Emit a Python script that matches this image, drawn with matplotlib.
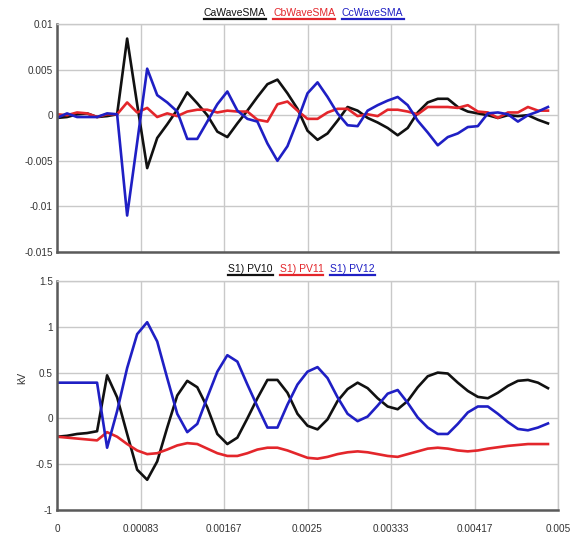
import matplotlib
matplotlib.use("Agg")
import matplotlib.pyplot as plt
from matplotlib.lines import Line2D
import numpy as np

plt.rcParams['font.family'] = ['Liberation Sans', 'DejaVu Sans']

# sample times (s), 0.1 ms step
t = np.round(np.arange(50) * 1e-4, 5)

ca_wave_sma = [-0.0003, -0.0002, 0.0001, 0.0002, -0.0002, -0.0001, 0.0001, 0.0084, 0.0012, -0.0058,
               -0.0025, -0.0010, 0.0006, 0.0025, 0.0013, 0.0000, -0.0018, -0.0024, -0.0009, 0.0005,
               0.0020, 0.0034, 0.0039, 0.0024, 0.0007, -0.0017, -0.0027, -0.0020, -0.0006, 0.0009,
               0.0005, -0.0003, -0.0008, -0.0014, -0.0022, -0.0014, 0.0003, 0.0014, 0.0018, 0.0018,
               0.0009, 0.0004, 0.0002, 0.0000, -0.0003, 0.0000, -0.0001, 0.0000, -0.0005, -0.0009]
cb_wave_sma = [0.0001, 0.0000, 0.0003, 0.0002, -0.0002, 0.0001, 0.0001, 0.0014, 0.0003, 0.0008,
               -0.0002, 0.0002, -0.0001, 0.0004, 0.0006, 0.0006, 0.0003, 0.0005, 0.0004, 0.0004,
               -0.0005, -0.0007, 0.0012, 0.0015, 0.0005, -0.0004, -0.0004, 0.0003, 0.0007, 0.0007,
               -0.0001, 0.0001, -0.0001, 0.0006, 0.0006, 0.0004, 0.0001, 0.0009, 0.0009, 0.0009,
               0.0008, 0.0011, 0.0004, 0.0003, -0.0003, 0.0003, 0.0003, 0.0009, 0.0005, 0.0005]
cc_wave_sma = [-0.0003, 0.0002, -0.0002, -0.0002, -0.0002, 0.0002, 0.0001, -0.0110, -0.0030, 0.0051,
               0.0022, 0.0014, 0.0004, -0.0026, -0.0026, -0.0007, 0.0012, 0.0026, 0.0005, -0.0004,
               -0.0007, -0.0031, -0.0050, -0.0034, -0.0006, 0.0024, 0.0036, 0.0020, 0.0002, -0.0011,
               -0.0012, 0.0005, 0.0011, 0.0016, 0.0020, 0.0011, -0.0006, -0.0019, -0.0033, -0.0024,
               -0.0020, -0.0013, -0.0012, 0.0002, 0.0003, 0.0001, -0.0007, 0.0000, 0.0004, 0.0009]

pv10 = [-0.20, -0.19, -0.17, -0.16, -0.14, 0.47, 0.23, -0.17, -0.56, -0.67,
        -0.47, -0.10, 0.25, 0.41, 0.34, 0.12, -0.17, -0.28, -0.21, 0.00,
        0.22, 0.42, 0.42, 0.28, 0.05, -0.08, -0.12, -0.01, 0.19, 0.32,
        0.39, 0.33, 0.22, 0.13, 0.10, 0.19, 0.34, 0.46, 0.50, 0.49,
        0.39, 0.30, 0.235, 0.22, 0.28, 0.355, 0.41, 0.42, 0.39, 0.33]
pv11 = [-0.20, -0.21, -0.22, -0.23, -0.24, -0.15, -0.20, -0.28, -0.35, -0.39,
        -0.38, -0.34, -0.295, -0.27, -0.28, -0.33, -0.38, -0.41, -0.41, -0.38,
        -0.34, -0.32, -0.32, -0.35, -0.39, -0.43, -0.44, -0.42, -0.39, -0.37,
        -0.36, -0.37, -0.39, -0.41, -0.42, -0.39, -0.36, -0.33, -0.32, -0.33,
        -0.35, -0.36, -0.35, -0.33, -0.315, -0.30, -0.29, -0.28, -0.28, -0.28]
pv12 = [0.39, 0.39, 0.39, 0.39, 0.39, -0.32, 0.08, 0.55, 0.92, 1.05,
        0.84, 0.44, 0.05, -0.15, -0.06, 0.23, 0.51, 0.69, 0.62, 0.37,
        0.13, -0.10, -0.10, 0.15, 0.37, 0.51, 0.56, 0.44, 0.23, 0.05,
        -0.03, 0.02, 0.14, 0.27, 0.31, 0.17, 0.01, -0.10, -0.17, -0.17,
        -0.06, 0.065, 0.13, 0.13, 0.05, -0.04, -0.115, -0.13, -0.10, -0.055]

x_ticks = [0, 0.005 / 6, 0.01 / 6, 0.0025, 0.02 / 6, 0.025 / 6, 0.005]
x_tick_labels = ['0', '0.00083', '0.00167', '0.0025', '0.00333', '0.00417', '0.005']
top_y_ticks = [0.01, 0.005, 0, -0.005, -0.01, -0.015]
top_y_labels = ['0.01', '0.005', '0', '-0.005', '-0.01', '-0.015']
bot_y_ticks = [1.5, 1, 0.5, 0, -0.5, -1]
bot_y_labels = ['1.5', '1', '0.5', '0', '-0.5', '-1']

BLACK = '#111111'
RED = '#e3262b'
BLUE = '#1f1fc4'
GRID = '#c9c9c9'
SPINE = '#5a5a5a'
TEXT = '#333333'

W, H = 576, 534
fig = plt.figure(figsize=(W / 100, H / 100), dpi=100)
ax1 = fig.add_axes([57 / W, 1 - 252 / H, 501 / W, 228 / H])
ax2 = fig.add_axes([57 / W, 1 - 510 / H, 501 / W, 229 / H])


def style(ax, yticks, ylabels, ylim):
    ax.set_xlim(0, 0.005)
    ax.set_ylim(*ylim)
    ax.set_xticks(x_ticks)
    ax.set_xticklabels(x_tick_labels)
    ax.set_yticks(yticks)
    ax.set_yticklabels(ylabels)
    ax.grid(True, color=GRID, lw=1.0)
    ax.set_axisbelow(True)
    for side in ('left', 'bottom'):
        ax.spines[side].set_color(SPINE)
        ax.spines[side].set_linewidth(1.8)
    for side in ('top', 'right'):
        ax.spines[side].set_color(GRID)
        ax.spines[side].set_linewidth(1.0)
    ax.tick_params(length=0, labelsize=7.2, labelcolor=TEXT, pad=3)
    ax.tick_params(axis='x', pad=10)


style(ax1, top_y_ticks, top_y_labels, (-0.015, 0.01))
style(ax2, bot_y_ticks, bot_y_labels, (-1, 1.5))
ax1.tick_params(labelbottom=False)

lw = 1.9
ax1.plot(t, ca_wave_sma, color=BLACK, lw=lw)
ax1.plot(t, cb_wave_sma, color=RED, lw=lw)
ax1.plot(t, cc_wave_sma, color=BLUE, lw=lw)

ax2.plot(t, pv10, color=BLACK, lw=lw)
ax2.plot(t, pv11, color=RED, lw=lw)
ax2.plot(t, pv12, color=BLUE, lw=lw)

fig.text(22 / W, 1 - 378 / H, 'kV', rotation=90, ha='center', va='center',
         fontsize=7.5, color=TEXT)


def underlined_legend(labels, colors, x0_px, baseline_px):
    fig.canvas.draw()
    renderer = fig.canvas.get_renderer()
    x = x0_px
    for lab, col in zip(labels, colors):
        txt = fig.text(x / W, 1 - baseline_px / H, lab, color=col, fontsize=7.5,
                       ha='left', va='baseline')
        bb = txt.get_window_extent(renderer=renderer)
        uy = 1 - (baseline_px + 2.5) / H
        fig.add_artist(Line2D([bb.x0 / W, bb.x1 / W], [uy, uy], color=col, lw=1.6,
                              transform=fig.transFigure))
        x = bb.x1 + 7


underlined_legend(['CaWaveSMA', 'CbWaveSMA', 'CcWaveSMA'], [BLACK, RED, BLUE], 204, 16.5)
underlined_legend(['S1) PV10', 'S1) PV11', 'S1) PV12'], [BLACK, RED, BLUE], 228, 272.5)

fig.savefig('out.png', dpi=100, facecolor='white')
